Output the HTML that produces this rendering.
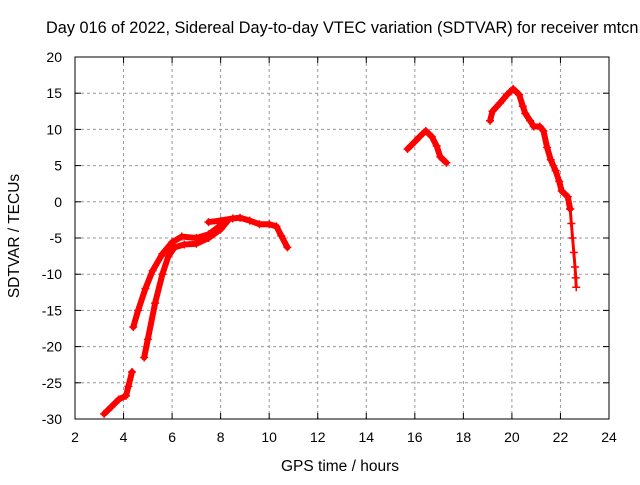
<!DOCTYPE html>
<html><head><meta charset="utf-8"><style>
body{margin:0;background:#fff;}
svg text{font-family:"Liberation Sans",sans-serif;font-size:14px;fill:#000;}
</style></head><body>
<svg id="chart" width="640" height="480" xmlns="http://www.w3.org/2000/svg">
<text x="46" y="33" style="font-size:16.3px">Day 016 of 2022, Sidereal Day-to-day VTEC variation (SDTVAR) for receiver mtcn</text>
<g id="grid"></g><g id="axes"></g><g id="series"></g>
<rect x="75" y="57" width="534" height="362" fill="none" stroke="#000" stroke-width="1"/>
<text x="340" y="471" text-anchor="middle" style="font-size:15.5px">GPS time / hours</text>
<text transform="translate(19,236) rotate(-90)" text-anchor="middle" style="font-size:15.5px">SDTVAR / TECUs</text>
</svg>
<script>
const xTicks=[2,4,6,8,10,12,14,16,18,20,22,24];
const yTicks=[20,15,10,5,0,-5,-10,-15,-20,-25,-30];
const segA=[[3.2,-29.3],[3.5,-28.3],[3.8,-27.3],[4.1,-26.8],[4.2,-25.5],[4.35,-23.5]];
const segB=[[4.85,-21.5],[5.0,-19],[5.3,-14],[5.6,-10],[5.85,-7.5],[6.1,-6.3],[6.5,-5.9],[7.0,-5.8],[7.5,-5.0],[8.0,-3.8],[8.3,-2.6]];
const segC=[[4.4,-17.3],[4.6,-15],[4.9,-12],[5.2,-9.5],[5.6,-7.2],[6.0,-5.6],[6.4,-4.8],[7.0,-5.0],[7.5,-4.5],[7.9,-3.5],[8.2,-2.6]];
const segD=[[7.5,-2.8],[8.0,-2.6],[8.5,-2.3],[8.8,-2.2],[9.2,-2.6],[9.6,-3.1],[10.0,-3.1],[10.3,-3.4],[10.5,-4.7],[10.75,-6.3]];
const segE=[[15.7,7.3],[16.0,8.3],[16.2,9.0],[16.45,9.8],[16.7,9.0],[16.9,7.7],[17.05,6.2],[17.3,5.4]];
const segF=[[19.1,11.2],[19.2,12.5],[19.5,13.6],[19.8,14.8],[20.05,15.6],[20.3,14.8],[20.45,13.2],[20.55,12.2],[20.75,11.2],[20.9,10.4],[21.15,10.4],[21.3,9.8],[21.45,7.5],[21.6,5.8],[21.8,4.3],[21.95,2.8],[22.05,1.5],[22.3,0.7],[22.4,-1]];
const segG=[[22.4,-1],[22.45,-3],[22.5,-5],[22.55,-7],[22.6,-9],[22.63,-10.5],[22.65,-11.8]];
const segments=[segA,segB,segC,segD,segE,segF];
const X=v=>75+(v-2)*534/22, Y=v=>57+(20-v)*362/50;
const NS="http://www.w3.org/2000/svg";
function mk(t,a,p){const e=document.createElementNS(NS,t);for(const k in a)e.setAttribute(k,a[k]);document.getElementById(p).appendChild(e);return e;}
xTicks.forEach(t=>{
 if(t>2&&t<24){const g=mk('line',{x1:X(t),x2:X(t),y1:57,y2:419,stroke:'#999','stroke-dasharray':'3,3'},'grid');
 
 }
 const l=mk('text',{x:X(t),y:442,'text-anchor':'middle'},'axes');l.textContent=t;
 
 
 mk('line',{x1:X(t),x2:X(t),y1:419,y2:413,stroke:'#000'},'axes');
 mk('line',{x1:X(t),x2:X(t),y1:57,y2:63,stroke:'#000'},'axes');
});
yTicks.forEach(t=>{
 if(t<20&&t>-30){const g=mk('line',{x1:75,x2:609,y1:Y(t),y2:Y(t),stroke:'#999','stroke-dasharray':'3,3'},'grid');
 
 }
 const l=mk('text',{x:62,y:Y(t)+5,'text-anchor':'end'},'axes');l.textContent=t;
 
 
 mk('line',{x1:75,x2:81,y1:Y(t),y2:Y(t),stroke:'#000'},'axes');
 mk('line',{x1:609,x2:603,y1:Y(t),y2:Y(t),stroke:'#000'},'axes');
});
segments.forEach(s=>{
 const p=mk('polyline',{points:s.map(d=>X(d[0])+','+Y(d[1])).join(' '),fill:'none',stroke:'#f00','stroke-width':6,'stroke-linejoin':'round','stroke-linecap':'round'},'series');
 
 
 s.forEach(d=>{
  const m=mk('path',{d:`M${X(d[0])-4},${Y(d[1])}h8M${X(d[0])},${Y(d[1])-4}v8`,stroke:'#f00','stroke-width':1.5},'series');
  
  
 });
});
const pg=mk('polyline',{points:segG.map(d=>X(d[0])+','+Y(d[1])).join(' '),fill:'none',stroke:'#f00','stroke-width':3},'series');


segG.forEach(d=>{
 const m=mk('path',{d:`M${X(d[0])-4},${Y(d[1])}h8M${X(d[0])},${Y(d[1])-4}v8`,stroke:'#f00','stroke-width':1.5},'series');
 
 
});
</script>
</body></html>
